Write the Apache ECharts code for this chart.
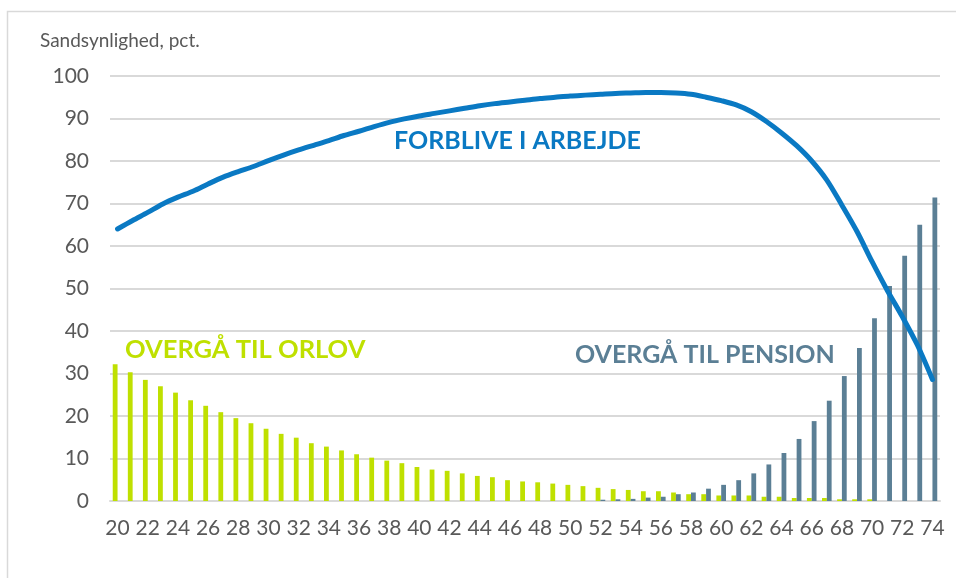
<!DOCTYPE html>
<html>
<head>
<meta charset="utf-8">
<script src="https://cdn.jsdelivr.net/npm/echarts@6/dist/echarts.min.js"></script>
<style>
  html, body { margin: 0; padding: 0; background: #fff; }
  #chart { width: 956px; height: 578px; }
</style>
</head>
<body>
<div id="chart"></div>
<script>
// Alder (år)
const ages = ['20','21','22','23','24','25','26','27','28','29',
              '30','31','32','33','34','35','36','37','38','39',
              '40','41','42','43','44','45','46','47','48','49',
              '50','51','52','53','54','55','56','57','58','59',
              '60','61','62','63','64','65','66','67','68','69',
              '70','71','72','73','74'];

// Sandsynlighed for at forblive i arbejde, pct.
const forblive = [64.0, 66.0, 67.9, 69.9, 71.5, 72.9, 74.6, 76.2, 77.5, 78.7,
                  80.1, 81.4, 82.6, 83.7, 84.8, 86.0, 87.0, 88.1, 89.1, 89.9,
                  90.6, 91.2, 91.8, 92.4, 93.0, 93.5, 93.9, 94.3, 94.7, 95.0,
                  95.3, 95.5, 95.7, 95.9, 96.0, 96.1, 96.1, 96.0, 95.7, 95.0,
                  94.2, 93.2, 91.6, 89.3, 86.6, 83.6, 80.0, 75.5, 69.6, 63.4,
                  56.3, 49.6, 43.4, 36.7, 28.6];

// Sandsynlighed for overgang til orlov, pct.
const orlov = [32.2, 30.3, 28.5, 27.0, 25.5, 23.7, 22.4, 20.9, 19.5, 18.3,
               17.0, 15.8, 14.9, 13.6, 12.8, 11.9, 11.0, 10.2, 9.5, 8.9,
               8.0, 7.4, 7.1, 6.5, 5.9, 5.6, 4.9, 4.6, 4.4, 4.1,
               3.8, 3.5, 3.1, 2.8, 2.6, 2.3, 2.3, 2.0, 1.6, 1.6,
               1.3, 1.3, 1.3, 1.0, 1.0, 0.7, 0.7, 0.7, 0.4, 0.4,
               0.4, 0, 0, 0, 0];

// Sandsynlighed for overgang til pension, pct.
const pension = [0, 0, 0, 0, 0, 0, 0, 0, 0, 0,
                 0, 0, 0, 0, 0, 0, 0, 0, 0, 0,
                 0, 0, 0, 0, 0, 0, 0, 0, 0, 0,
                 0, 0, 0.3, 0.4, 0.5, 0.8, 1.0, 1.6, 2.0, 2.9,
                 3.8, 4.9, 6.5, 8.6, 11.3, 14.6, 18.8, 23.6, 29.4, 36.0,
                 43.0, 50.6, 57.7, 65.0, 71.4];

const yTicks = { min: 0, max: 100, interval: 10 };

const GREEN = '#BFE000';
const SLATE = '#5B7F95';
const BLUE = '#0A79C3';
const GRID = '#D9D9D9';
const TEXT = '#595959';
const FONT = 'Lato, "Open Sans", sans-serif';

const chart = echarts.init(document.getElementById('chart'), null, { renderer: 'canvas' });

chart.setOption({
  animation: false,
  backgroundColor: '#ffffff',
  grid: { left: 110, right: 16, top: 76, bottom: 77, containLabel: false },
  xAxis: {
    type: 'category',
    data: ages,
    boundaryGap: true,
    axisTick: { show: false },
    axisLine: { lineStyle: { color: GRID, width: 2 } },
    axisLabel: { interval: 1, color: TEXT, fontSize: 21, fontFamily: FONT, margin: 17 }
  },
  yAxis: {
    type: 'value',
    min: yTicks.min,
    max: yTicks.max,
    interval: yTicks.interval,
    axisLine: { show: false },
    axisTick: { show: false },
    axisLabel: { color: TEXT, fontSize: 21, fontFamily: FONT, margin: 21 },
    splitLine: { lineStyle: { color: GRID, width: 2 } }
  },
  series: [
    {
      name: 'Overgå til orlov',
      type: 'bar',
      data: orlov,
      barWidth: 4.8,
      barGap: '0%',
      itemStyle: { color: GREEN },
      z: 2
    },
    {
      name: 'Overgå til pension',
      type: 'bar',
      data: pension,
      barWidth: 4.8,
      barGap: '0%',
      itemStyle: { color: SLATE },
      z: 2
    },
    {
      name: 'Forblive i arbejde',
      type: 'line',
      data: forblive,
      smooth: 0.3,
      symbol: 'none',
      lineStyle: { color: BLUE, width: 5, cap: 'round', join: 'round' },
      z: 5
    }
  ],
  graphic: [
    {
      type: 'rect',
      shape: { x: 7.5, y: 11.5, width: 1000, height: 700 },
      style: { fill: 'none', stroke: '#D9D9D9', lineWidth: 1.5 },
      silent: true
    },
    {
      type: 'text',
      left: 40, top: 31,
      style: { text: 'Sandsynlighed, pct.', fill: TEXT, font: '19px ' + FONT }
    },
    {
      type: 'text',
      left: 394, top: 128,
      style: { text: 'FORBLIVE I ARBEJDE', fill: BLUE, font: 'bold 25px ' + FONT }
    },
    {
      type: 'text',
      left: 125, top: 337,
      style: { text: 'OVERGÅ TIL ORLOV', fill: GREEN, font: 'bold 25.5px ' + FONT }
    },
    {
      type: 'text',
      left: 575, top: 342,
      style: { text: 'OVERGÅ TIL PENSION', fill: SLATE, font: 'bold 25px ' + FONT }
    }
  ]
});
</script>
</body>
</html>
